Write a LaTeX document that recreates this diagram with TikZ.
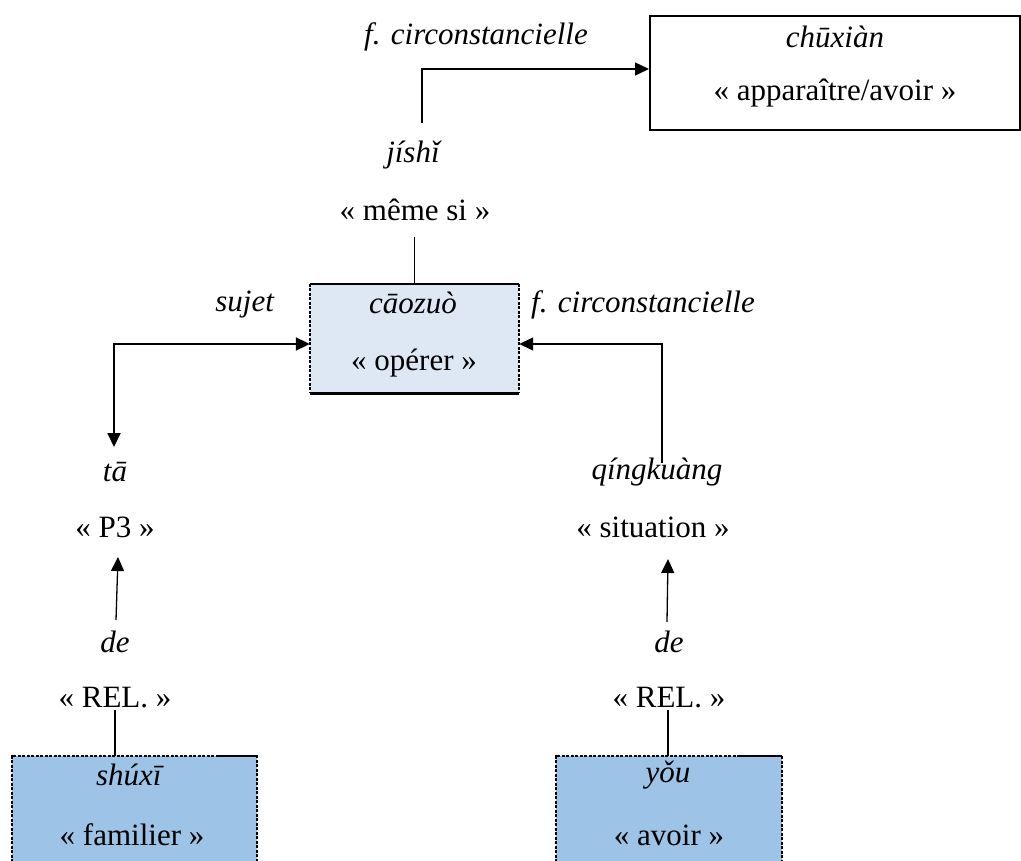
\documentclass[tikz,border=0pt]{standalone}
\usepackage{fontspec}
\setmainfont{Liberation Serif}
\usetikzlibrary{arrows.meta}
\definecolor{paleblue}{HTML}{DEE8F4}
\definecolor{midblue}{HTML}{9DC3E6}
\begin{document}
\begin{tikzpicture}[x=1pt,y=-1pt,
  txt/.style={inner sep=0pt, font=\fontsize{31}{37}\selectfont},
  ln/.style={line width=1.3pt},
  tip/.tip={Triangle[length=14pt,width=13pt]},
  arr/.style={ln, -tip},
  boxshape/.style={rectangle, inner sep=0pt},
  dotb/.style={line width=2pt, dash pattern=on 3pt off 1.5pt},
]
\useasboundingbox (0,0) rectangle (1021,861);

% ---- top box
\node[boxshape, draw, line width=2pt, minimum width=370pt, minimum height=114pt] (chuxian) at (835,73) {};
\node[txt] (chuxianw) at (835,37) {\textit{chūxiàn}};
\node[txt] (chuxiang) at (835,93) {« apparaître/avoir »};
\node[txt] (fcA) at (476,37) {\textit{f. circonstancielle}};

% ---- jishi
\node[txt] (jishi) at (414,155) {\textit{jíshǐ}};
\node[txt] (jishig) at (415,210) {« même si »};
\coordinate (j1) at (422,123);
\draw[arr] (j1) |- ([yshift=4pt]chuxian.west);

% ---- caozuo box
\node[boxshape, fill=paleblue, minimum width=209pt, minimum height=109pt] (caozuo) at (414.5,338.5) {};
\draw[line width=1.5pt] (caozuo.north west) -- (caozuo.north east);
\draw[dotb] (caozuo.north west) -- (caozuo.south west);
\draw[dotb] (caozuo.north east) -- (caozuo.south east);
\draw[line width=3pt] (caozuo.south west) -- (caozuo.south east);
\node[txt] (caozuow) at (413,303) {\textit{cāozuò}};
\node[txt] (caozuog) at (414,363) {« opérer »};
\draw[ln] (caozuo.north) -- ++(0,-47);

\node[txt] (sujet) at (245,305) {\textit{sujet}};
\node[txt] (fcB) at (643,305) {\textit{f. circonstancielle}};

% ---- left branch
\node[txt] (ta) at (115,472) {\textit{tā}};
\node[txt] (tag) at (115,527) {« P3 »};
\node[txt] (deA) at (115,642) {\textit{de}};
\node[txt] (relA) at (115,698) {« REL. »};
\coordinate (t1) at (114,447);
\draw[line width=2pt, tip-tip] ([yshift=-5.5pt]caozuo.west) -| (t1);
\coordinate (dA) at (116,620);
\coordinate (pA) at (118,557);
\draw[arr] (dA) -- (pA);

% ---- right branch
\node[txt] (qk) at (657,472) {\textit{qíngkuàng}};
\node[txt] (qkg) at (653,527) {« situation »};
\node[txt] (deB) at (669,642) {\textit{de}};
\node[txt] (relB) at (669,698) {« REL. »};
\coordinate (q1) at (662,463);
\draw[arr] (q1) |- ([yshift=-5.5pt]caozuo.east);
\coordinate (dB) at (667,622);
\coordinate (pB) at (668,559);
\draw[arr] (dB) -- (pB);

% ---- bottom boxes
\node[boxshape, fill=midblue, minimum width=245pt, minimum height=124pt] (shuxi) at (134.5,818) {};
\draw[dotb] (shuxi.south west) -- (shuxi.north west) -- (shuxi.north east) -- (shuxi.south east);
\draw[line width=2pt] ([xshift=-40pt]shuxi.north east) -- (shuxi.north east);
\node[txt] (shuxiw) at (130,775) {\textit{shúxī}};
\node[txt] (shuxig) at (132,835) {« familier »};

\node[boxshape, fill=midblue, minimum width=226pt, minimum height=124pt] (you) at (669,818) {};
\draw[dotb] (you.south west) -- (you.north west) -- (you.north east) -- (you.south east);
\draw[line width=2pt] ([xshift=-42pt]you.north east) -- (you.north east);
\node[txt] (youw) at (668,775) {\textit{yǒu}};
\node[txt] (youg) at (669,835) {« avoir »};

\coordinate (rA) at (115,710);
\draw[ln] (rA) -- (rA |- shuxi.north);
\coordinate (rB) at (668,710);
\draw[ln] (rB) -- (rB |- you.north);
\end{tikzpicture}
\end{document}
